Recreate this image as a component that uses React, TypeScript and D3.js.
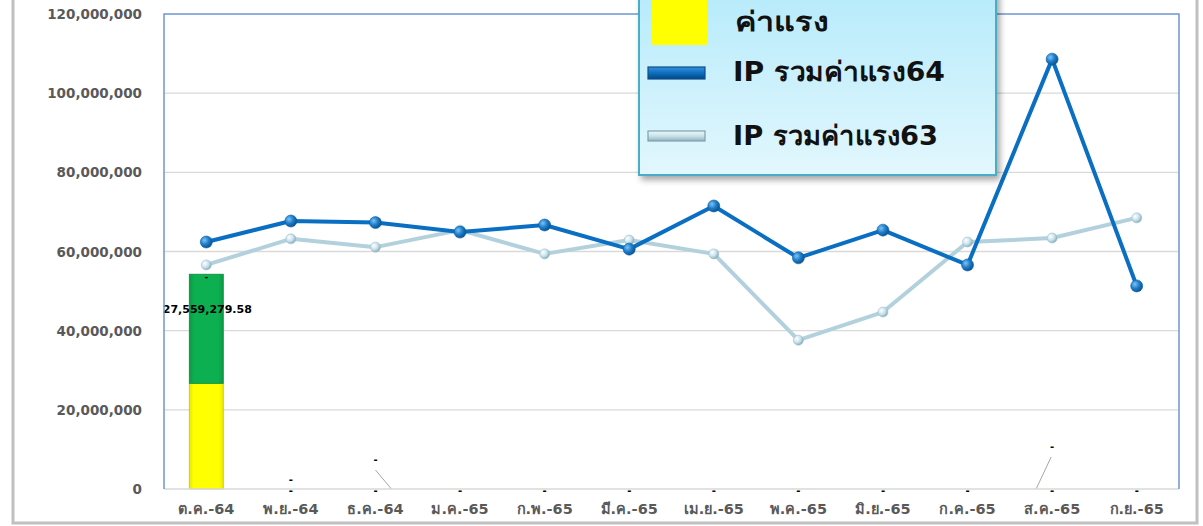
import React from "react";
import * as d3 from "d3";

const categories = ["ต.ค.-64", "พ.ย.-64", "ธ.ค.-64", "ม.ค.-65", "ก.พ.-65", "มี.ค.-65", "เม.ย.-65", "พ.ค.-65", "มิ.ย.-65", "ก.ค.-65", "ส.ค.-65", "ก.ย.-65"];
const wageYellow = [26700000, 0, 0, 0, 0, 0, 0, 0, 0, 0, 0, 0];
const wageGreen = [27559279.58, 0, 0, 0, 0, 0, 0, 0, 0, 0, 0, 0];
const ip64 = [62400000, 67700000, 67300000, 64900000, 66700000, 60600000, 71500000, 58400000, 65400000, 56600000, 108600000, 51300000];
const ip63 = [56600000, 63200000, 61100000, 65400000, 59400000, 62900000, 59400000, 37600000, 44700000, 62400000, 63400000, 68500000];
const yTicks = [0, 20000000, 40000000, 60000000, 80000000, 100000000, 120000000];

const W = 1203, H = 526;
const left = 164, right = 1179, top = 14, bottom = 489;

export default function App() {
  const x = d3.scaleBand<string>().domain(categories).range([left, right]).padding(0);
  const y = d3.scaleLinear().domain([0, 120000000]).range([bottom, top]);
  const cx = (i: number) => (x(categories[i]) as number) + x.bandwidth() / 2;
  const fmt = d3.format(",");
  const line = d3.line<number>().x((_, i) => cx(i)).y((d) => y(d));
  const barW = 34;
  const axisFont = "Tahoma, 'DejaVu Sans', Verdana, sans-serif";
  const legFont = "Tahoma, 'DejaVu Sans', sans-serif";

  return (
    <svg width={W} height={H} style={{ position: "absolute", left: 0, top: 0, background: "#fff" }}>
      <defs>
        <radialGradient id="m64" cx="35%" cy="35%" r="70%">
          <stop offset="0%" stopColor="#7fc3f0" />
          <stop offset="50%" stopColor="#1f7fcc" />
          <stop offset="100%" stopColor="#0a4f8a" />
        </radialGradient>
        <radialGradient id="m63" cx="35%" cy="35%" r="70%">
          <stop offset="0%" stopColor="#ffffff" />
          <stop offset="55%" stopColor="#c9e1ea" />
          <stop offset="100%" stopColor="#7fa9ba" />
        </radialGradient>
        <linearGradient id="legBg" x1="0" y1="0" x2="0" y2="1">
          <stop offset="0%" stopColor="#b4eafb" />
          <stop offset="100%" stopColor="#e2f7fd" />
        </linearGradient>
        <linearGradient id="gBar" x1="0" y1="0" x2="1" y2="0">
          <stop offset="0%" stopColor="#0a9a45" />
          <stop offset="15%" stopColor="#0db050" />
          <stop offset="85%" stopColor="#0db050" />
          <stop offset="100%" stopColor="#0a9a45" />
        </linearGradient>
        <linearGradient id="yBar" x1="0" y1="0" x2="1" y2="0">
          <stop offset="0%" stopColor="#e6e600" />
          <stop offset="12%" stopColor="#ffff00" />
          <stop offset="88%" stopColor="#ffff00" />
          <stop offset="100%" stopColor="#e6e600" />
        </linearGradient>
        <linearGradient id="l64" x1="0" y1="0" x2="0" y2="1">
          <stop offset="0%" stopColor="#3a8fd6" />
          <stop offset="50%" stopColor="#0a6fc2" />
          <stop offset="100%" stopColor="#08457c" />
        </linearGradient>
        <linearGradient id="l63" x1="0" y1="0" x2="0" y2="1">
          <stop offset="0%" stopColor="#eef8fb" />
          <stop offset="50%" stopColor="#c9e2ea" />
          <stop offset="100%" stopColor="#8fb2bf" />
        </linearGradient>
        <filter id="shadow" x="-10%" y="-10%" width="130%" height="130%">
          <feDropShadow dx="3" dy="4" stdDeviation="3" floodColor="#000" floodOpacity="0.35" />
        </filter>
      </defs>

      {/* outer frame */}
      <rect x={13} y={-5} width={1184} height={528} fill="#fff" stroke="#c0c0c0" strokeWidth={3} />

      {/* gridlines */}
      {yTicks.filter((t) => t > 0 && t < 120000000).map((t) => (
        <line key={t} x1={left} x2={right} y1={y(t)} y2={y(t)} stroke="#d9d9d9" strokeWidth={1.3} />
      ))}

      {/* y tick labels */}
      {yTicks.map((t) => (
        <text key={t} x={142} y={y(t) + 5} textAnchor="end" fontFamily={axisFont} fontWeight="bold" fontSize={13.5} fill="#595959">
          {fmt(t)}
        </text>
      ))}

      {/* x labels */}
      {categories.map((c, i) => (
        <text key={c} x={cx(i)} y={514} textAnchor="middle" fontFamily={axisFont} fontWeight="bold" fontSize={14.5} fill="#595959">
          {c}
        </text>
      ))}

      {/* bars */}
      {categories.map((c, i) => {
        const ySeg = wageYellow[i];
        const gSeg = wageGreen[i];
        if (ySeg + gSeg === 0) return null;
        return (
          <g key={c}>
            <rect x={cx(i) - barW / 2} y={y(ySeg)} width={barW} height={y(0) - y(ySeg)} fill="url(#yBar)" stroke="#c8c800" strokeWidth={0.8} />
            <rect x={cx(i) - barW / 2} y={y(ySeg + gSeg)} width={barW} height={y(ySeg) - y(ySeg + gSeg)} fill="url(#gBar)" stroke="#0a8a3e" strokeWidth={0.8} />
            <text x={cx(i) + 1} y={y(ySeg + gSeg) + 39} textAnchor="middle" fontFamily="'DejaVu Sans', sans-serif" fontWeight="bold" fontSize={11} fill="#000">
              {d3.format(",.2f")(gSeg)}
            </text>
            <text x={cx(i)} y={y(ySeg + gSeg) + 6} textAnchor="middle" fontFamily="'DejaVu Sans', sans-serif" fontWeight="bold" fontSize={9} fill="#000">-</text>
          </g>
        );
      })}

      {/* zero-value dash labels and leader lines */}
      <g fontFamily="'DejaVu Sans', sans-serif" fontWeight="bold" fontSize={10} fill="#000" textAnchor="middle">
        <text x={cx(1)} y={483}>-</text>
        <text x={cx(1)} y={494}>-</text>
        <text x={cx(2)} y={463}>-</text>
        <text x={cx(2)} y={494}>-</text>
        <text x={cx(10)} y={450}>-</text>
        {[3, 4, 5, 6, 7, 8, 9, 10, 11].map((i) => (
          <text key={i} x={cx(i)} y={494}>-</text>
        ))}
      </g>
      <line x1={cx(2) + 0} y1={470} x2={cx(2) + 16} y2={489} stroke="#a6a6a6" strokeWidth={1} />
      <line x1={cx(10) - 1} y1={457} x2={cx(10) - 16} y2={489} stroke="#a6a6a6" strokeWidth={1} />

      {/* plot area border */}
      <line x1={left} x2={right} y1={bottom} y2={bottom} stroke="#d9d9d9" strokeWidth={1.5} />
      <path d={`M${left},${bottom} V${top} H${right} V${bottom}`} fill="none" stroke="#6e97cf" strokeWidth={1.5} />

      {/* IP63 line */}
      <path d={line(ip63) as string} fill="none" stroke="#b3d1dd" strokeWidth={4} strokeLinejoin="round" />
      {ip63.map((v, i) => (
        <circle key={i} cx={cx(i)} cy={y(v)} r={5} fill="url(#m63)" stroke="#9dbfcc" strokeWidth={0.6} />
      ))}

      {/* IP64 line */}
      <path d={line(ip64) as string} fill="none" stroke="#0a6fc2" strokeWidth={4} strokeLinejoin="round" />
      {ip64.map((v, i) => (
        <circle key={i} cx={cx(i)} cy={y(v)} r={6} fill="url(#m64)" stroke="#0a5ea8" strokeWidth={0.6} />
      ))}

      {/* legend */}
      <g>
        <rect x={639} y={-20} width={357} height={195} fill="url(#legBg)" stroke="#4bacc6" strokeWidth={2} filter="url(#shadow)" />
        <rect x={652} y={-10} width={55} height={55} fill="#ffff00" rx={1} />
        <text x={735} y={31} fontFamily={legFont} fontWeight="bold" fontSize={27} fill="#111" textLength={93} lengthAdjust="spacingAndGlyphs">ค่าแรง</text>
        <rect x={648} y={67} width={57} height={12} fill="url(#l64)" stroke="#0b4f8a" strokeWidth={1.2} />
        <text x={733} y={81} fontFamily={legFont} fontWeight="bold" fontSize={27} fill="#111" textLength={212} lengthAdjust="spacingAndGlyphs">IP รวมค่าแรง64</text>
        <rect x={648} y={131} width={57} height={10} fill="url(#l63)" stroke="#7fa0ad" strokeWidth={1.2} />
        <text x={733} y={145} fontFamily={legFont} fontWeight="bold" fontSize={27} fill="#111" textLength={205} lengthAdjust="spacingAndGlyphs">IP รวมค่าแรง63</text>
      </g>
    </svg>
  );
}
